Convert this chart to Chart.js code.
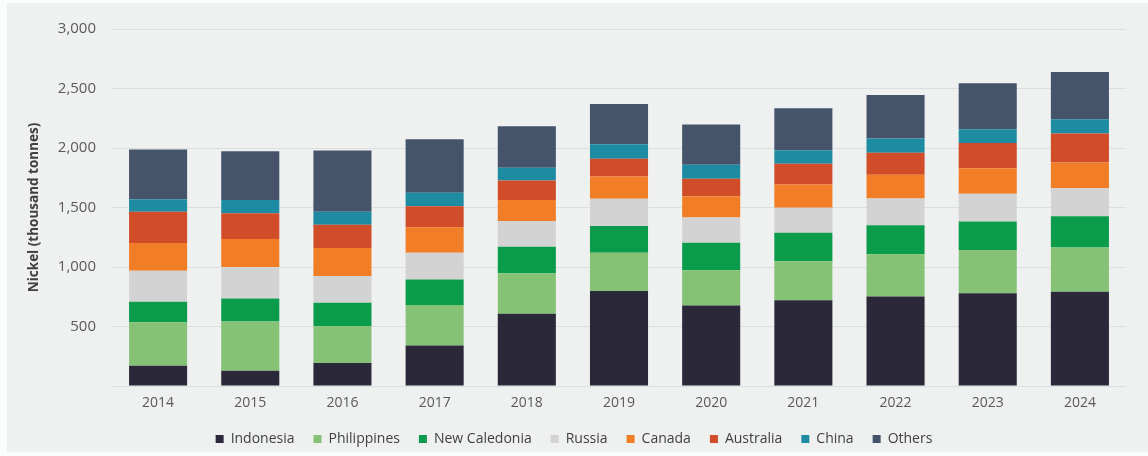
<!DOCTYPE html>
<html>
<head>
<meta charset="utf-8">
<script src="https://cdn.jsdelivr.net/npm/chart.js@4"></script>
<style>
  html, body { margin: 0; padding: 0; background: #eff1f1; }
  #wrap { width: 1148px; height: 456px; position: relative; }
  /* pale frame round the plot panel */
  #wrap::after {
    content: ""; position: absolute; inset: 0; pointer-events: none;
    border-top: 3px solid #fbfcfc; border-left: 7px solid #fbfcfc; border-bottom: 4px solid #fbfcfc;
  }
</style>
</head>
<body>
<div id="wrap"><canvas id="nickel"></canvas></div>
<script>
const years = ["2014","2015","2016","2017","2018","2019","2020","2021","2022","2023","2024"];

const indonesia    = [170, 128, 193, 340, 607, 798, 677, 720, 753, 779, 792];
const philippines  = [365, 414, 310, 340, 341, 321, 296, 329, 355, 363, 372];
const newCaledonia = [172, 194, 196, 214, 222, 226, 231, 239, 242, 241, 262];
const russia       = [262, 265, 226, 225, 217, 228, 213, 209, 225, 232, 236];
const canada       = [233, 234, 234, 214, 177, 188, 178, 196, 200, 214, 217];
const australia    = [262, 216, 197, 177, 163, 149, 147, 175, 186, 213, 243];
const china        = [105, 113, 109, 113, 107, 121, 118, 113, 118, 116, 120];
const others       = [418, 408, 513, 450, 349, 338, 338, 352, 366, 386, 397];

const yTicks = [0, 500, 1000, 1500, 2000, 2500, 3000];

const series = [
  { label: "Indonesia",     data: indonesia,    color: "#2b2839" },
  { label: "Philippines",   data: philippines,  color: "#85c276" },
  { label: "New Caledonia", data: newCaledonia, color: "#0b9c4b" },
  { label: "Russia",        data: russia,       color: "#d3d3d3" },
  { label: "Canada",        data: canada,       color: "#f17e26" },
  { label: "Australia",     data: australia,    color: "#d14c28" },
  { label: "China",         data: china,        color: "#1d8ca2" },
  { label: "Others",        data: others,       color: "#45546b" }
];

const font = "'Open Sans', Lato, sans-serif";

new Chart(document.getElementById("nickel"), {
  type: "bar",
  data: {
    labels: years,
    datasets: series.map(s => ({
      label: s.label,
      data: s.data,
      backgroundColor: s.color,
      borderWidth: 0,
      barPercentage: 0.63,
      categoryPercentage: 1
    }))
  },
  options: {
    responsive: true,
    maintainAspectRatio: false,
    animation: false,
    layout: { padding: { left: 22, right: 22, top: 29, bottom: 0 } },
    plugins: {
      tooltip: { enabled: false },
      legend: {
        position: "bottom",
        labels: {
          boxWidth: 8,
          boxHeight: 8,
          padding: 19,
          color: "#404040",
          font: { family: font, size: 14 }
        }
      }
    },
    scales: {
      x: {
        stacked: true,
        grid: { display: false, drawTicks: false },
        border: { display: false },
        ticks: { color: "#595959", padding: 9, font: { family: font, size: 14 } },
        afterFit: s => { s.height = 27; }
      },
      y: {
        stacked: true,
        min: 0,
        max: 3000,
        afterBuildTicks: s => { s.ticks = yTicks.map(v => ({ value: v })); },
        grid: { color: "#dcdfdf", drawTicks: false },
        border: { display: false },
        ticks: {
          color: "#595959",
          padding: 16,
          font: { family: font, size: 15 },
          callback: v => v === 0 ? "" : v.toLocaleString("en-US")
        },
        title: {
          display: true,
          text: "Nickel (thousand tonnes)",
          color: "#404040",
          padding: { top: 4, bottom: 0 },
          font: { family: font, size: 13.5, weight: "bold" }
        },
        afterFit: s => { s.width = 90; }
      }
    }
  }
});
</script>
</body>
</html>
